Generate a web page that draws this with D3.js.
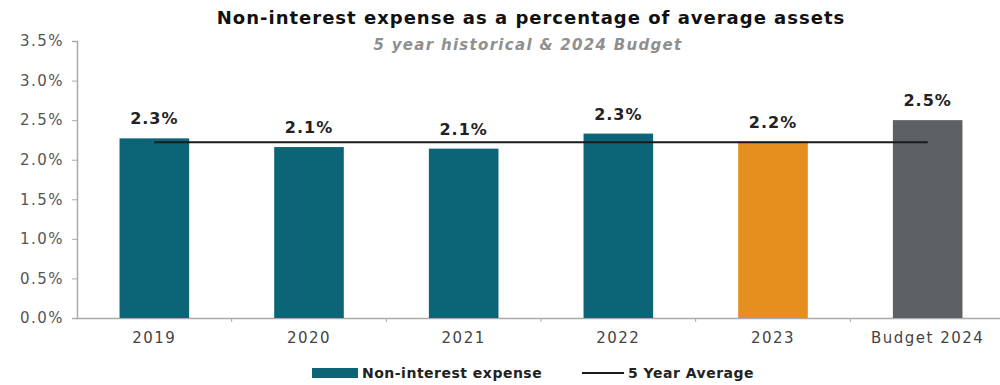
<!DOCTYPE html>
<html>
<head>
<meta charset="utf-8">
<script src="https://cdn.jsdelivr.net/npm/d3@7"></script>
<style>
  body { margin: 0; background: #fff; }
  text { font-family: "DejaVu Sans", Verdana, sans-serif; }
</style>
</head>
<body>
<script>
// chart data
var categories = ['2019', '2020', '2021', '2022', '2023', 'Budget 2024'];
var expenseValues = [2.27, 2.16, 2.14, 2.33, 2.23, 2.50];
var valueLabels = ['2.3%', '2.1%', '2.1%', '2.3%', '2.2%', '2.5%'];
var averageValue = 2.22;
var yTicks = [0, 0.5, 1.0, 1.5, 2.0, 2.5, 3.0, 3.5];
var barColors = ['#0b6577', '#0b6577', '#0b6577', '#0b6577', '#e58f1f', '#5d6064'];

var W = 1000, H = 385;
var margin = {top: 41, right: 0, bottom: 67, left: 77},
    width = 1005 - margin.left,
    height = H - margin.top - margin.bottom;

var svg = d3.select('body').append('svg')
    .attr('width', W)
    .attr('height', H);

var g = svg.append('g')
    .attr('transform', 'translate(' + margin.left + ',' + margin.top + ')');

var x = d3.scaleBand().domain(categories).range([0, width]).paddingInner(0.55).paddingOuter(0.275);
var xc = d3.scalePoint().domain(categories).range([0, width]).padding(0.5);
var y = d3.scaleLinear().domain([0, 3.5]).range([height, 0]);

// title
svg.append('text')
    .attr('x', 531).attr('y', 24)
    .attr('text-anchor', 'middle')
    .style('font-size', '18px').style('font-weight', 'bold').style('fill', '#111')
    .style('letter-spacing', '1px')
    .text('Non-interest expense as a percentage of average assets');
svg.append('text')
    .attr('x', 528).attr('y', 50)
    .attr('text-anchor', 'middle')
    .style('font-size', '15px').style('font-weight', 'bold').style('font-style', 'italic').style('fill', '#8f8f8f')
    .style('letter-spacing', '1.3px')
    .text('5 year historical & 2024 Budget');

// y axis
var yAxis = g.append('g')
    .call(d3.axisLeft(y).tickValues(yTicks).tickSize(5).tickFormat(function(d) { return d.toFixed(1) + '%'; }));
yAxis.selectAll('text').style('font-size', '15px').style('fill', '#555')
    .style('letter-spacing', '1.5px').attr('x', -13);

// x axis with ticks between categories
var xAxis = g.append('g')
    .attr('transform', 'translate(0,' + height + ')')
    .call(d3.axisBottom(x).tickSize(0).tickPadding(14));
xAxis.selectAll('text').style('font-size', '15px').style('fill', '#444').style('letter-spacing', '1.5px');
xAxis.selectAll('.sep')
    .data(categories.slice(1))
    .enter().append('line')
    .attr('class', 'sep')
    .attr('x1', function(d) { return x(d) - x.step() * x.paddingInner() / 2; })
    .attr('x2', function(d) { return x(d) - x.step() * x.paddingInner() / 2; })
    .attr('y1', 0).attr('y2', 4)
    .attr('stroke', '#aaa');

g.selectAll('.domain').attr('stroke', '#aaa').attr('stroke-width', 1.5);
g.selectAll('.tick line').attr('stroke', '#aaa');

// bars
g.selectAll('.bar')
    .data(expenseValues)
    .enter().append('rect')
    .attr('class', 'bar')
    .attr('x', function(d, i) { return x(categories[i]); })
    .attr('y', function(d) { return y(d); })
    .attr('width', x.bandwidth())
    .attr('height', function(d) { return height - y(d); })
    .attr('fill', function(d, i) { return barColors[i]; });

// average line
g.append('line')
    .attr('x1', xc(categories[0]))
    .attr('x2', xc(categories[categories.length - 1]))
    .attr('y1', y(averageValue))
    .attr('y2', y(averageValue))
    .attr('stroke', '#1a1a1a')
    .attr('stroke-width', 2);

// value labels
g.selectAll('.val')
    .data(expenseValues)
    .enter().append('text')
    .attr('class', 'val')
    .attr('x', function(d, i) { return xc(categories[i]); })
    .attr('y', function(d) { return y(d) - 14; })
    .attr('text-anchor', 'middle')
    .style('font-size', '16px').style('font-weight', 'bold').style('fill', '#222')
    .style('letter-spacing', '1px')
    .text(function(d, i) { return valueLabels[i]; });

// legend
var legend = svg.append('g').attr('transform', 'translate(0,373)');
legend.append('rect')
    .attr('x', 312).attr('y', -5).attr('width', 46).attr('height', 10)
    .attr('fill', '#0b6577');
legend.append('text')
    .attr('x', 362).attr('y', 5)
    .style('font-size', '14px').style('font-weight', 'bold').style('fill', '#222')
    .style('letter-spacing', '0.5px')
    .text('Non-interest expense');
legend.append('line')
    .attr('x1', 582).attr('x2', 624).attr('y1', 0).attr('y2', 0)
    .attr('stroke', '#1a1a1a').attr('stroke-width', 2);
legend.append('text')
    .attr('x', 628).attr('y', 5)
    .style('font-size', '14px').style('font-weight', 'bold').style('fill', '#222')
    .style('letter-spacing', '0.5px')
    .text('5 Year Average');
</script>
</body>
</html>
